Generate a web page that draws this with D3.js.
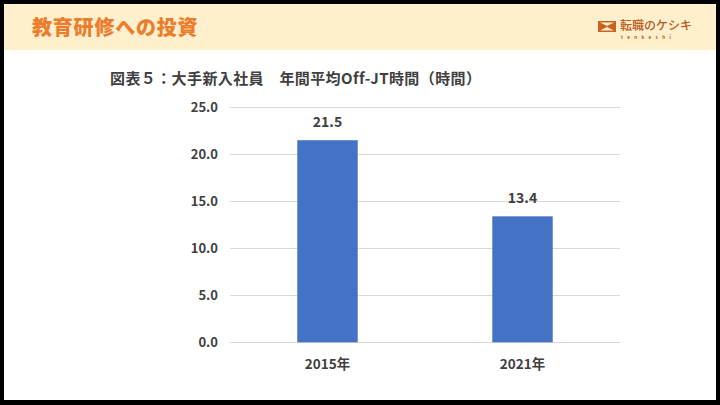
<!DOCTYPE html>
<html><head><meta charset="utf-8">
<script src="https://cdn.jsdelivr.net/npm/d3@7"></script>
<style>html,body{margin:0;padding:0;background:#000;}svg{display:block;}</style>
</head><body>
<script>
const categories = ["2015年", "2021年"];
const values = [21.5, 13.4];
const yTicks = [0, 5, 10, 15, 20, 25];
const pageTitle = "教育研修への投資";
const chartTitle = "図表５：大手新入社員　年間平均Off-JT時間（時間）";

const W = 720, H = 405;
const svg = d3.select("body").append("svg").attr("width", W).attr("height", H);
svg.append("rect").attr("width", W).attr("height", H).attr("fill", "#000");
svg.append("rect").attr("x", 4).attr("y", 4).attr("width", 712).attr("height", 396).attr("fill", "#fff");
svg.append("rect").attr("x", 4).attr("y", 4).attr("width", 712).attr("height", 46).attr("fill", "#FFEFCC");

const font = "'Noto Sans CJK JP', 'Noto Sans', sans-serif";
svg.append("text").attr("x", 32).attr("y", 35).text(pageTitle)
  .attr("font-family", font).attr("font-weight", 900).attr("font-size", 20)
  .attr("letter-spacing", 0.8)
  .attr("fill", "#EB7D2C");

// logo
const lg = svg.append("g");
lg.append("rect").attr("x", 598).attr("y", 21).attr("width", 18).attr("height", 11).attr("fill", "#C8641E");
lg.append("path").attr("d", "M600,22.5 L614,22.5 L607,26 Z M600,30.5 L614,30.5 L607,27 Z").attr("fill", "#FFEFCC");
lg.append("text").attr("x", 620).attr("y", 30).text("転職のケシキ")
  .attr("font-family", font).attr("font-size", 12).attr("font-weight", 500).attr("fill", "#B85A1E");
lg.append("text").attr("x", 621).attr("y", 38.5).text("tenkeshi")
  .attr("font-family", font).attr("font-size", 4.5).attr("letter-spacing", 4.4).attr("font-weight", 700).attr("fill", "#B85A1E");

svg.append("text").attr("x", 110).attr("y", 84).text(chartTitle)
  .attr("font-family", font).attr("font-weight", 700).attr("font-size", 15)
  .attr("letter-spacing", 0.4)
  .attr("fill", "#404040");

const x = d3.scaleBand().domain(categories).range([230, 620]).paddingInner(0.69).paddingOuter(0.345);
const y = d3.scaleLinear().domain([0, 25]).range([342.3, 107.3]);

const grid = svg.append("g");
grid.selectAll("line").data(yTicks).join("line")
  .attr("x1", 230).attr("x2", 620)
  .attr("y1", d => Math.round(y(d)) + 0.5).attr("y2", d => Math.round(y(d)) + 0.5)
  .attr("stroke", "#D9D9D9").attr("stroke-width", 1);

const yAxis = svg.append("g").attr("transform", "translate(230,0)")
  .call(d3.axisLeft(y).tickValues(yTicks).tickFormat(d3.format(".1f")).tickSize(0).tickPadding(12));
yAxis.select(".domain").remove();
yAxis.selectAll("text").attr("font-family", font).attr("font-size", 13).attr("font-weight", 700).attr("fill", "#404040");

svg.append("g").selectAll("rect").data(values).join("rect")
  .attr("x", (d, i) => x(categories[i])).attr("width", x.bandwidth())
  .attr("y", d => y(d)).attr("height", d => y(0) - y(d))
  .attr("fill", "#4472C4");

svg.append("g").selectAll("text").data(values).join("text")
  .attr("x", (d, i) => x(categories[i]) + x.bandwidth() / 2)
  .attr("y", d => y(d) - 13)
  .attr("text-anchor", "middle").text(d => d3.format(".1f")(d))
  .attr("font-family", font).attr("font-size", 14).attr("font-weight", 700).attr("fill", "#404040");

const xAxis = svg.append("g").attr("transform", "translate(0,342)")
  .call(d3.axisBottom(x).tickSize(0).tickPadding(17));
xAxis.select(".domain").remove();
xAxis.selectAll("text").attr("font-family", font).attr("font-size", 13.5).attr("font-weight", 700).attr("fill", "#404040");
</script>
</body></html>
